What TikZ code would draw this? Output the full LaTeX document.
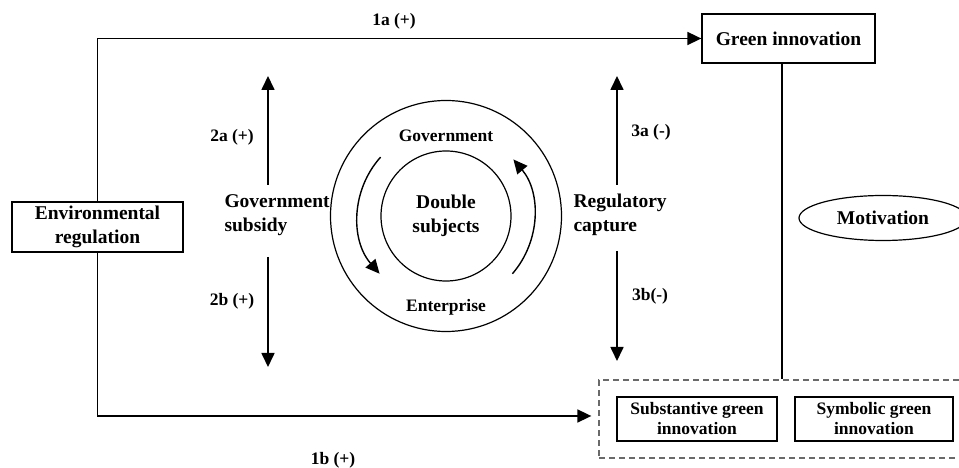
\documentclass[tikz,border=0pt]{standalone}
\usepackage{fontspec}
\setmainfont{Liberation Serif}
\usepackage{tikz}
\usetikzlibrary{shapes.geometric,arrows.meta,positioning}
\definecolor{dashgrey}{RGB}{105,105,105}

\begin{document}
\begin{tikzpicture}[x=1pt,y=1pt,
    big/.style={font=\fontsize{19.5}{23.5}\selectfont\bfseries},
    small/.style={font=\fontsize{17.5}{20}\selectfont\bfseries},
    box/.style={draw,line width=1.3pt,align=center,inner sep=0pt},
    link/.style={line width=1.7pt},
    arr/.style={line width=1.7pt,-{Triangle[length=14pt,width=13pt]}}]
  \useasboundingbox (0,0) rectangle (959,468);
  \clip (0,0) rectangle (959,468);
  % boxes
  \node[box,big,minimum width=171pt,minimum height=50pt] (envreg) at (97.5,241) {Environmental\\regulation};
  \node[box,big,minimum width=173pt,minimum height=49pt] (green) at (788.5,429.5) {Green innovation};
  \node[draw,dashgrey,line width=1.3pt,dash pattern=on 6pt off 4pt,minimum width=376pt,minimum height=78pt] (group) at (787,49) {};
  \node[box,small,minimum width=160pt,minimum height=44pt] (subst) at (697,49) {Substantive green\\innovation};
  \node[box,small,minimum width=158pt,minimum height=44pt] (symb) at (874,49) {Symbolic green\\innovation};
  \node[ellipse,draw,line width=1.2pt,big,minimum width=168pt,minimum height=45pt,inner sep=0pt] (motiv) at (883,250) {Motivation};
  % double subjects
  \node[circle,draw,line width=1.2pt,minimum size=231pt] (outer) at (446,252) {};
  \node[circle,draw,line width=1.2pt,minimum size=130pt,big,align=center,inner sep=0pt] (inner) at (446,252) {Double\\subjects};
  \node[small] (gov) at (446,332) {Government};
  \node[small] (ent) at (446,161) {Enterprise};
  \draw[arr,line width=1.4pt] ([shift={(138:88)}]inner.center) arc[start angle=138,end angle=221,radius=88];
  \draw[arr,line width=1.4pt] ([shift={(-41:88)}]inner.center) arc[start angle=-41,end angle=40,radius=88];
  % mechanisms
  \node[big,align=left,anchor=west] (subsidy) at (221,253) {Government\\subsidy};
  \node[big,align=left,anchor=west] (capture) at (570,253) {Regulatory\\capture};
  \coordinate (s2a) at (268,283); \coordinate (e2a) at (268,392);
  \coordinate (s2b) at (268,211); \coordinate (e2b) at (268,101);
  \coordinate (s3a) at (617,283); \coordinate (e3a) at (617,392);
  \coordinate (s3b) at (617,217); \coordinate (e3b) at (617,107);
  \draw[arr] (s2a) -- (e2a);
  \draw[arr] (s2b) -- (e2b);
  \draw[arr] (s3a) -- (e3a);
  \draw[arr] (s3b) -- (e3b);
  \node[small] (l2a) at (232,331) {2a (+)};
  \node[small] (l2b) at (232,167) {2b (+)};
  \node[small] (l3a) at (651,336) {3a (-)};
  \node[small] (l3b) at (650,172) {3b(-)};
  % main paths
  \draw[arr] (envreg.north) |- (green.west);
  \draw[arr,shorten >=7pt] (envreg.south) |- ([yshift=3pt]group.west);
  \draw[link] ([xshift=-6.5pt]green.south) -- ([xshift=-6.5pt]green.south |- group.north);
  \node[small] (l1a) at (394,447) {1a (+)};
  \node[small] (l1b) at (333,8) {1b (+)};
\end{tikzpicture}
\end{document}
